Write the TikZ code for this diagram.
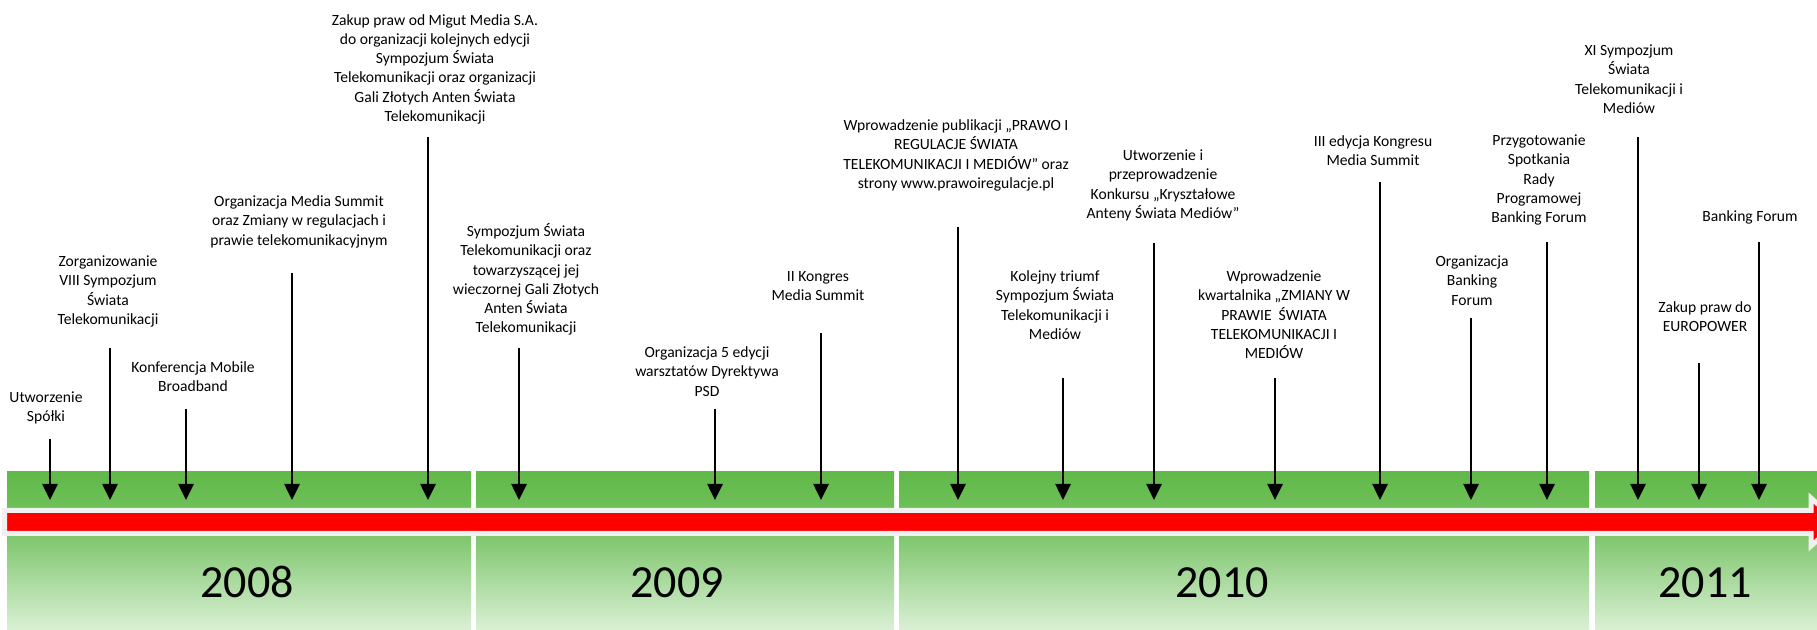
\documentclass[tikz,border=0pt]{standalone}
\usepackage{fontspec}
\setmainfont{Carlito}
\usetikzlibrary{arrows.meta}
\definecolor{gtopA}{RGB}{97,185,72}
\definecolor{gtopB}{RGB}{110,192,90}
\definecolor{gbotA}{RGB}{124,197,107}
\definecolor{gbotM}{RGB}{165,216,150}
\definecolor{gbotB}{RGB}{218,240,212}
\definecolor{barred}{RGB}{255,0,0}
\definecolor{barrim}{RGB}{240,240,240}
\tikzset{
  evtext/.style={anchor=north, align=center, inner sep=0pt, text=black,
    font=\fontsize{15.6}{19.2}\selectfont},
  yeartext/.style={anchor=base, inner sep=0pt, text=black,
    font=\fontsize{46}{55}\selectfont},
  evarrow/.style={line width=2.6pt, draw=black,
    -{Triangle[length=16pt,width=15pt]}},
  topband/.style={top color=gtopA, bottom color=gtopB, draw=none},
  botband/.style={top color=gbotA, middle color=gbotM, bottom color=gbotB, draw=none},
}
\begin{document}
\begin{tikzpicture}[x=1pt,y=1pt]
\useasboundingbox (0,0) rectangle (1817,629);
\clip (0,0) rectangle (1817,629);
% green bands (y = 629 - image y)
\foreach \a/\b in {7/471,476/894,899/1589,1595/1830}{
  \fill[topband] (\a,157) rectangle (\b,119);
  \fill[botband] (\a,95) rectangle (\b,0);
}
% red timeline arrow
\draw[fill=barred, draw=barrim, line width=5pt, line join=miter]
  (4.5,118.5) -- (1811,118.5) -- (1811,131) -- (1838,107) -- (1811,83)
  -- (1811,95.5) -- (4.5,95.5) -- cycle;
% years
\node[yeartext] (y2008) at (247,31.5) {2008};
\node[yeartext] (y2009) at (677,31.5) {2009};
\node[yeartext] (y2010) at (1222,31.5) {2010};
\node[yeartext] (y2011) at (1705,31.5) {2011};
% event texts (y = 638 - first line centre)
\node[evtext] (t1) at (46,240) {\strut Utworzenie\\Spółki};
\node[evtext] (t2) at (108,376) {\strut Zorganizowanie\\VIII Sympozjum\\Świata\\Telekomunikacji};
\node[evtext] (t3) at (193,270) {\strut Konferencja Mobile\\Broadband};
\node[evtext] (t4) at (299,436) {\strut Organizacja Media Summit\\oraz Zmiany w regulacjach i\\prawie telekomunikacyjnym};
\node[evtext] (t5) at (435,617.3) {\strut Zakup praw od Migut Media S.A.\\do organizacji kolejnych edycji\\Sympozjum Świata\\Telekomunikacji oraz organizacji\\Gali Złotych Anten Świata\\Telekomunikacji};
\node[evtext] (t6) at (526,406) {\strut Sympozjum Świata\\Telekomunikacji oraz\\towarzyszącej jej\\wieczornej Gali Złotych\\Anten Świata\\Telekomunikacji};
\node[evtext] (t7) at (707,285) {\strut Organizacja 5 edycji\\warsztatów Dyrektywa\\PSD};
\node[evtext] (t8) at (818,361) {\strut II Kongres\\Media Summit};
\node[evtext] (t9) at (956,512) {\strut Wprowadzenie publikacji „PRAWO I\\REGULACJE ŚWIATA\\TELEKOMUNIKACJI I MEDIÓW” oraz\\strony www.prawoiregulacje.pl};
\node[evtext] (t10) at (1055,361) {\strut Kolejny triumf\\Sympozjum Świata\\Telekomunikacji i\\Mediów};
\node[evtext] (t11) at (1163,482) {\strut Utworzenie i\\przeprowadzenie\\Konkursu „Kryształowe\\Anteny Świata Mediów”};
\node[evtext] (t12) at (1274,361) {\strut Wprowadzenie\\kwartalnika „ZMIANY W\\PRAWIE\ \ ŚWIATA\\TELEKOMUNIKACJI I\\MEDIÓW};
\node[evtext] (t13) at (1373,496) {\strut III edycja Kongresu\\Media Summit};
\node[evtext] (t14) at (1472,376) {\strut Organizacja\\Banking\\Forum};
\node[evtext] (t15) at (1539,497) {\strut Przygotowanie\\Spotkania\\Rady\\Programowej\\Banking Forum};
\node[evtext] (t16) at (1629,587) {\strut XI Sympozjum\\Świata\\Telekomunikacji i\\Mediów};
\node[evtext] (t17) at (1705,330) {\strut Zakup praw do\\EUROPOWER};
\node[evtext] (t18) at (1750,421) {\strut Banking Forum};
% arrow start / end coordinates (start y = 629 - line top, end at image y 500)
\foreach \n/\x/\t in {1/50/439, 2/110/348, 3/186/409, 4/292/273, 5/428/137,
  6/519/348, 7/715/409, 8/821/333, 9/958/227, 10/1063/378, 11/1154/243,
  12/1275/378, 13/1380/182, 14/1471/318, 15/1547/242, 16/1638/137,
  17/1699/363, 18/1759/242}{
  \coordinate (s\n) at (\x,629-\t);
  \coordinate (e\n) at (\x,129);
  \draw[evarrow] (s\n) -- (e\n);
}
\end{tikzpicture}
\end{document}
